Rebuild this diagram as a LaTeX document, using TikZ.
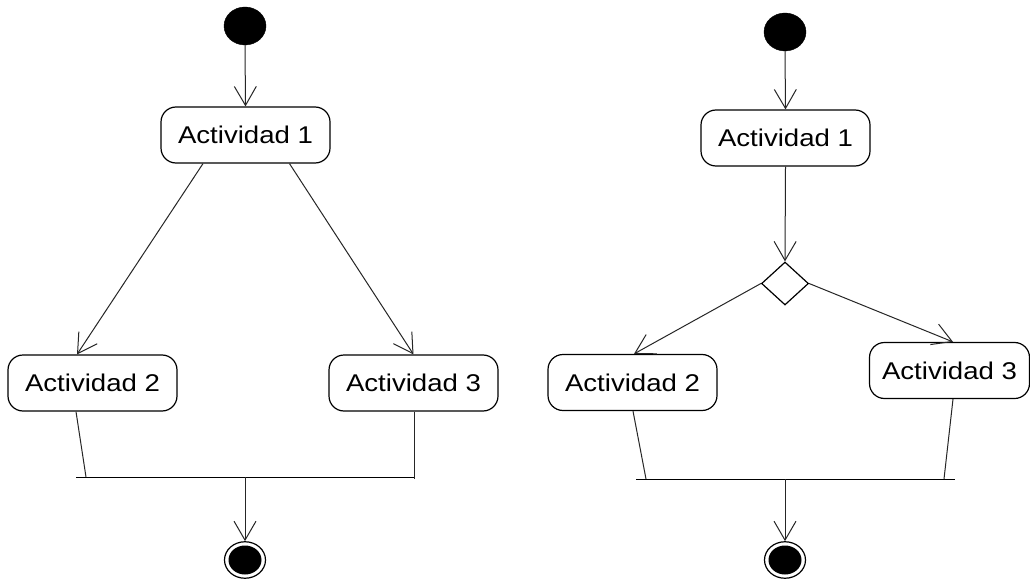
\documentclass[tikz,border=0pt]{standalone}
\usepackage{fontspec}
\newfontfamily\lab[FakeStretch=1.14]{Liberation Sans}
\usetikzlibrary{arrows.meta,shapes.geometric}
\begin{document}
\begin{tikzpicture}[x=1pt,y=-1pt,
  act/.style={draw=black,line width=1.2pt,rounded corners=15pt,minimum width=169pt,minimum height=56pt,inner sep=0pt,
    font=\lab\fontsize{24.2}{29}\selectfont},
  initst/.style={ellipse,fill=black,draw=black,minimum width=42pt,minimum height=38pt,inner sep=0pt},
  finalst/.style={ellipse,draw=black,line width=1.2pt,minimum width=41pt,minimum height=36.5pt,inner sep=0pt,
    path picture={\fill[black] (path picture bounding box.center) ellipse (16.5pt and 14.5pt);}},
  dec/.style={diamond,draw=black,line width=1.2pt,minimum width=47pt,minimum height=43pt,inner sep=0pt},
  conn/.style={draw=black!85,line width=1pt},
  arr/.style={conn,-{Straight Barb[length=19pt,width=22pt,line width=1pt]}},
  bar/.style={draw=black,line width=1pt}]
\useasboundingbox[fill=white] (0,0) rectangle (1030,580);
% ---------- left diagram ----------
\node[initst] (ini1) at (245,26) {};
\node[act] (a1) at (245.5,135) {Actividad 1};
\node[act] (a2) at (92.5,383) {Actividad 2};
\node[act] (a3) at (413.5,383) {Actividad 3};
\node[finalst] (fin1) at (245,560) {};
\coordinate (j1l) at (76,477);
\coordinate (j1r) at (415,477);
\coordinate (j1a) at (86,477);
\coordinate (j1b) at (414,479);
\coordinate (j1c) at (245,477);
\draw[arr] (ini1.south) -- (a1.north);
\draw[arr] ([xshift=-42.5pt]a1.south) -- ([xshift=-15.5pt]a2.north);
\draw[arr] ([xshift=44pt]a1.south) -- (a3.north);
\draw[bar] (j1l) -- (j1r);
\draw[conn] ([xshift=-16.5pt]a2.south) -- (j1a);
\draw[conn] ([xshift=0.5pt]a3.south) -- (j1b);
\draw[arr] (j1c) -- (fin1.north);
% ---------- right diagram ----------
\node[initst] (ini2) at (785,32) {};
\node[act] (a4) at (785.5,138) {Actividad 1};
\node[dec] (d1) at (785,283.5) {};
\node[act] (a5) at (632.5,382.5) {Actividad 2};
\node[act,minimum width=160pt] (a6) at (949.5,370.5) {Actividad 3};
\node[finalst] (fin2) at (785,560) {};
\coordinate (j2l) at (636,479);
\coordinate (j2r) at (955,479);
\coordinate (j2a) at (646,479);
\coordinate (j2b) at (944,479);
\coordinate (j2c) at (785,479);
\draw[arr] (ini2.south) -- (a4.north);
\draw[arr] (a4.south) -- (d1.north);
\draw[arr] (d1.west) -- ([xshift=1.5pt]a5.north);
\draw[arr] (d1.east) -- ([xshift=3.5pt]a6.north);
\draw[bar] (j2l) -- (j2r);
\draw[conn] ([xshift=0.5pt]a5.south) -- (j2a);
\draw[conn] ([xshift=3.5pt]a6.south) -- (j2b);
\draw[arr] (j2c) -- (fin2.north);
\end{tikzpicture}
\end{document}
